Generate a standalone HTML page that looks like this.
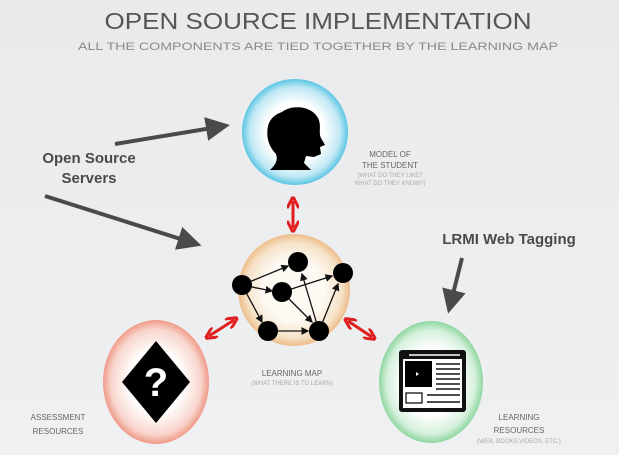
<!DOCTYPE html>
<html><head><meta charset="utf-8"><style>
html,body{margin:0;padding:0;background:#eceef0;}
svg{display:block;font-family:"Liberation Sans",sans-serif;}
</style></head><body>
<svg width="619" height="455" viewBox="0 0 619 455" xmlns="http://www.w3.org/2000/svg">
<defs>
<radialGradient id="gb" cx="50%" cy="50%" r="50%"><stop offset="0.55" stop-color="#ffffff"/><stop offset="0.85" stop-color="#bfe8f4"/><stop offset="1" stop-color="#5cc6e4"/></radialGradient>
<radialGradient id="go" cx="50%" cy="50%" r="50%"><stop offset="0.55" stop-color="#fdf9f3"/><stop offset="0.85" stop-color="#f6e2c8"/><stop offset="1" stop-color="#eebd8a"/></radialGradient>
<radialGradient id="gr" cx="50%" cy="50%" r="50%"><stop offset="0.5" stop-color="#ffffff"/><stop offset="0.85" stop-color="#f8d5cc"/><stop offset="1" stop-color="#ef9a88"/></radialGradient>
<radialGradient id="gg" cx="50%" cy="50%" r="50%"><stop offset="0.55" stop-color="#ffffff"/><stop offset="0.85" stop-color="#d5f0dc"/><stop offset="1" stop-color="#8fd6a0"/></radialGradient>
<linearGradient id="bg" x1="0" y1="0" x2="0" y2="1"><stop offset="0" stop-color="#e8eaec"/><stop offset="1" stop-color="#eef0f2"/></linearGradient>
<marker id="ga" markerWidth="6" markerHeight="6" refX="3" refY="3" orient="auto" markerUnits="strokeWidth"><path d="M0,0 L6,3 L0,6 z" fill="#4a4a4a"/></marker>
<marker id="ra" markerWidth="4" markerHeight="4" refX="2.5" refY="2" orient="auto-start-reverse" markerUnits="strokeWidth"><path d="M0,0 L4,2 L0,4" fill="none" stroke="#e02020" stroke-width="1"/></marker>
<marker id="ka" markerWidth="6" markerHeight="6" refX="5" refY="3" orient="auto" markerUnits="strokeWidth"><path d="M0,0 L6,3 L0,6 z" fill="#111"/></marker>
</defs>
<rect width="619" height="455" fill="url(#bg)"/>
<text x="318" y="29" text-anchor="middle" font-size="23" fill="#555" textLength="427" lengthAdjust="spacingAndGlyphs">OPEN SOURCE IMPLEMENTATION</text>
<text x="318" y="50" text-anchor="middle" font-size="11" fill="#8a8a8a" textLength="480" lengthAdjust="spacingAndGlyphs">ALL THE COMPONENTS ARE TIED TOGETHER BY THE LEARNING MAP</text>

<circle cx="295" cy="132" r="53" fill="url(#gb)"/>
<path d="M282,112 C292,104 312,106 318,118 C322,126 318,132 321,138 L325,145 L320,147 L321,154 L314,157 L306,156 L304,163 L311,170 L270,170 C276,164 278,160 276,154 C268,146 266,136 268,126 C270,118 276,114 282,112 Z" fill="#000"/>
<text x="390" y="157" text-anchor="middle" font-size="8" fill="#666">MODEL OF</text>
<text x="390" y="168" text-anchor="middle" font-size="8" fill="#666">THE STUDENT</text>
<text x="390" y="177" text-anchor="middle" font-size="6" fill="#aaa">(WHAT DO THEY LIKE?</text>
<text x="390" y="185" text-anchor="middle" font-size="6" fill="#aaa">WHAT DO THEY KNOW?)</text>

<circle cx="294" cy="290" r="56" fill="url(#go)"/>
<g stroke="#111" stroke-width="1.3" fill="none" marker-end="url(#ka)">
<line x1="242" y1="285" x2="288" y2="266"/>
<line x1="242" y1="285" x2="272" y2="291"/>
<line x1="242" y1="285" x2="262" y2="322"/>
<line x1="282" y1="292" x2="332" y2="276"/>
<line x1="282" y1="292" x2="312" y2="322"/>
<line x1="268" y1="331" x2="308" y2="331"/>
<line x1="319" y1="331" x2="302" y2="274"/>
<line x1="319" y1="331" x2="338" y2="284"/>
</g>
<g fill="#000">
<circle cx="298" cy="262" r="10"/><circle cx="242" cy="285" r="10"/><circle cx="282" cy="292" r="10"/>
<circle cx="343" cy="273" r="10"/><circle cx="268" cy="331" r="10"/><circle cx="319" cy="331" r="10"/>
</g>
<text x="292" y="376" text-anchor="middle" font-size="8" fill="#666">LEARNING MAP</text>
<text x="292" y="385" text-anchor="middle" font-size="6" fill="#aaa">(WHAT THERE IS TO LEARN)</text>

<ellipse cx="156" cy="382" rx="53" ry="62" fill="url(#gr)"/>
<polygon points="156,341 190,382 156,423 122,382" fill="#000"/>
<text x="156" y="396" text-anchor="middle" font-size="40" font-weight="bold" fill="#fff">?</text>
<text x="58" y="420" text-anchor="middle" font-size="8" fill="#666">ASSESSMENT</text>
<text x="58" y="434" text-anchor="middle" font-size="8" fill="#666">RESOURCES</text>

<ellipse cx="431" cy="382" rx="52" ry="61" fill="url(#gg)"/>
<rect x="399" y="350" width="67" height="62" rx="3" fill="#111"/>
<rect x="403" y="359" width="59" height="49" fill="#fff"/>
<line x1="409" y1="355" x2="460" y2="355" stroke="#fff" stroke-width="1.5"/>
<rect x="405" y="361" width="27" height="26" fill="#000"/>
<path d="M416,372 L419,374 L416,376 z" fill="#fff"/>
<g stroke="#111" stroke-width="1.5">
<line x1="436" y1="364" x2="460" y2="364"/><line x1="436" y1="369" x2="460" y2="369"/><line x1="436" y1="374" x2="460" y2="374"/><line x1="436" y1="379" x2="460" y2="379"/><line x1="436" y1="384" x2="460" y2="384"/><line x1="436" y1="389" x2="460" y2="389"/>
<line x1="427" y1="395" x2="460" y2="395"/><line x1="427" y1="402" x2="460" y2="402"/>
</g>
<rect x="406" y="393" width="16" height="10" fill="#fff" stroke="#111" stroke-width="1.3"/>
<text x="519" y="420" text-anchor="middle" font-size="8" fill="#666">LEARNING</text>
<text x="519" y="433" text-anchor="middle" font-size="8" fill="#666">RESOURCES</text>
<text x="519" y="443" text-anchor="middle" font-size="6" fill="#aaa">(WEB, BOOKS,VIDEOS, ETC.)</text>

<g stroke="#e02020" stroke-width="3" fill="none" marker-start="url(#ra)" marker-end="url(#ra)">
<line x1="293" y1="201" x2="293" y2="228"/>
<line x1="209" y1="336" x2="234" y2="320"/>
<line x1="348" y1="321" x2="372" y2="337"/>
</g>

<g stroke="#4a4a4a" stroke-width="4" fill="none" marker-end="url(#ga)">
<line x1="115" y1="144" x2="218" y2="127"/>
<line x1="45" y1="196" x2="190" y2="242"/>
<line x1="462" y1="258" x2="451" y2="302"/>
</g>
<text x="89" y="163" text-anchor="middle" font-size="15" font-weight="bold" fill="#4a4a4a">Open Source</text>
<text x="89" y="183" text-anchor="middle" font-size="15" font-weight="bold" fill="#4a4a4a">Servers</text>
<text x="509" y="244" text-anchor="middle" font-size="15" font-weight="bold" fill="#4a4a4a">LRMI Web Tagging</text>
</svg>
</body></html>
